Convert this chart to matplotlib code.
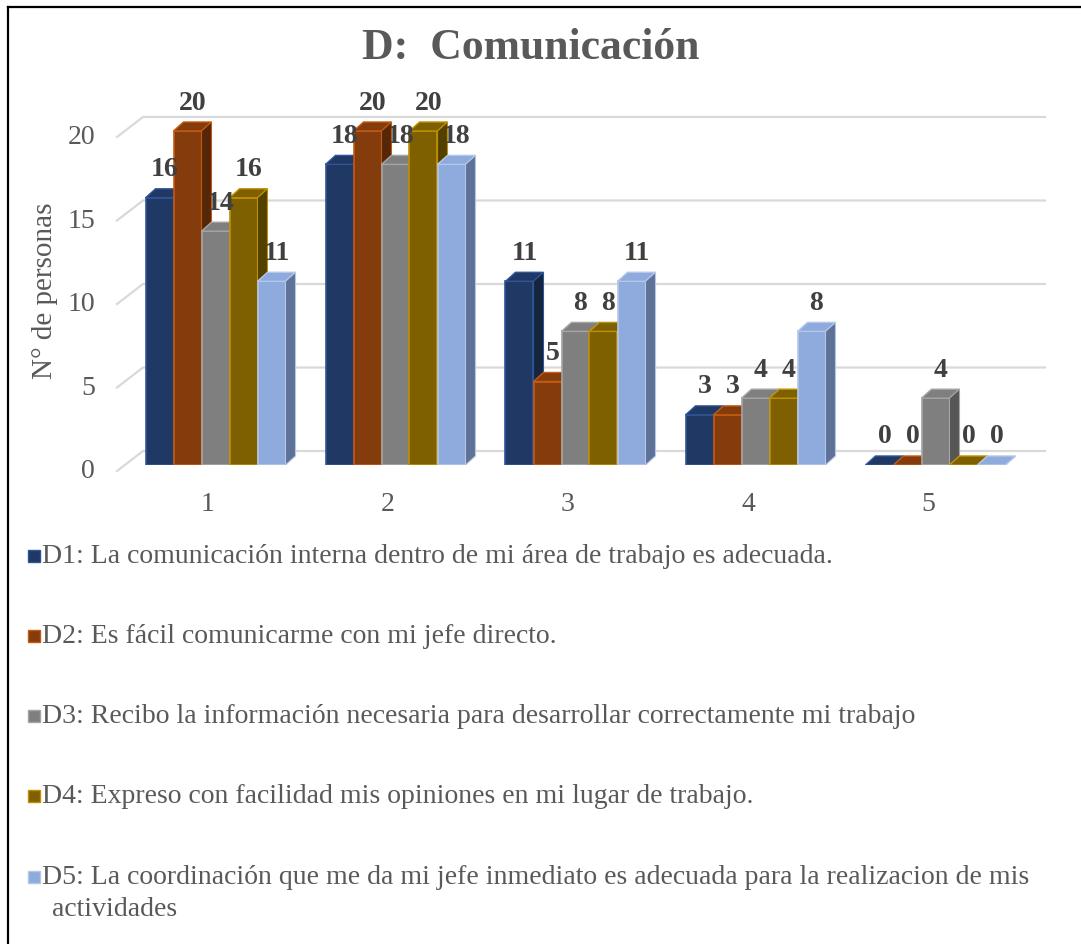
import matplotlib
matplotlib.use("Agg")
import matplotlib.pyplot as plt
from matplotlib.patches import Polygon, Rectangle
from matplotlib.lines import Line2D

plt.rcParams['font.family'] = ['Liberation Serif', 'DejaVu Serif']

# data
groups = [1, 2, 3, 4, 5]
series_names = [
    "D1: La comunicación interna dentro de mi área de trabajo es adecuada.",
    "D2: Es fácil comunicarme con mi jefe directo.",
    "D3: Recibo la información necesaria para desarrollar correctamente mi trabajo",
    "D4: Expreso con facilidad mis opiniones en mi lugar de trabajo.",
    "D5: La coordinación que me da mi jefe inmediato es adecuada para la realizacion de mis\nactividades",
]
d1 = [16, 18, 11, 3, 0]
d2 = [20, 20, 5, 3, 0]
d3 = [14, 18, 8, 4, 4]
d4 = [16, 20, 8, 4, 0]
d5 = [11, 18, 11, 8, 0]
values = [d1, d2, d3, d4, d5]
yticks = [0, 5, 10, 15, 20]

face = ["#203864", "#843C0C", "#7F7F7F", "#7F6000", "#8FAADC"]
edge = ["#2F5597", "#C55A11", "#A5A5A5", "#BF9000", "#B4C7E7"]
side = ["#15243F", "#552708", "#565656", "#524000", "#5E7196"]
grey = "#595959"

W, H = 1081, 945
fig = plt.figure(figsize=(W / 100, H / 100), dpi=100)

# axes placed in pixels of the reference
ax_l, ax_r, ax_b, ax_t = 117, 1045, 466, 82
ax = fig.add_axes([ax_l / W, 1 - ax_b / H, (ax_r - ax_l) / W, (ax_b - ax_t) / H])
px_x, px_y = 180.0, 16.7
x0_lim = 1 + (ax_l - 208) / px_x
x1_lim = 1 + (ax_r - 208) / px_x
ax.set_xlim(x0_lim, x1_lim)
ax.set_ylim(0, (ax_b - ax_t) / px_y)
ax.axis("off")

# pseudo-3d grid (back wall + floor diagonal)
g_dx, g_front, g_back = 26 / px_x, -6 / px_y, 14 / px_y
for v in yticks:
    ax.plot([x0_lim, x0_lim + g_dx, x1_lim], [v + g_front, v + g_back, v + g_back],
            color="#D9D9D9", lw=1.6, clip_on=False, zorder=0)
    ax.text(x0_lim - 22 / px_x, v + g_front, str(v), ha="right", va="center",
            fontsize=20, color=grey)

for g in groups:
    ax.text(g, -39 / px_y, str(g), ha="center", va="center", fontsize=20, color=grey)

# bars with top and side faces
w = 28 / px_x
shift = 7.5 / px_x
ddx, ddy = 10 / px_x, 9 / px_y
for j, vals in enumerate(values):
    for g, h in zip(groups, vals):
        xa = g + shift + (j - 2) * w - w / 2
        xb = xa + w
        ax.add_patch(Rectangle((xa, 0), w, h, fc=face[j], ec=edge[j], lw=1.2))
        ax.add_patch(Polygon([(xa, h), (xb, h), (xb + ddx, h + ddy), (xa + ddx, h + ddy)],
                             closed=True, fc=face[j], ec=edge[j], lw=1.0))
        ax.add_patch(Polygon([(xb, 0), (xb + ddx, ddy), (xb + ddx, h + ddy), (xb, h)],
                             closed=True, fc=side[j], ec=edge[j], lw=0.8))

for j, vals in enumerate(values):
    for g, h in zip(groups, vals):
        xc = g + shift + (j - 2) * w
        ax.text(xc + ddx / 2, h + 29 / px_y, str(h), ha="center", va="center",
                fontsize=20, fontweight="bold", color="#404040", zorder=10, clip_on=False)

# title and axis label
fig.text(531 / W, 1 - 48 / H, "D:  Comunicación", ha="center", va="center",
         fontsize=31.5, fontweight="bold", color=grey)
fig.text(45 / W, 1 - 291 / H, "N° de personas", rotation=90, ha="center", va="center",
         fontsize=21, color=grey)

# legend below the plot
rows = [557, 637, 717, 797, 878]
for j, name in enumerate(series_names):
    y = rows[j]
    fig.add_artist(Rectangle((28 / W, 1 - (y + 6) / H), 12 / W, 12 / H,
                             transform=fig.transFigure, fc=face[j], ec=edge[j], lw=1.0))
    first, *rest = name.split("\n")
    fig.text(42 / W, 1 - y / H, first, ha="left", va="center", fontsize=20, color=grey)
    for k, line in enumerate(rest):
        fig.text(52 / W, 1 - (y + 32 * (k + 1)) / H, line, ha="left", va="center",
                 fontsize=20, color=grey)

# frame lines at top and left
fig.add_artist(Line2D([8 / W, 1], [1 - 8 / H, 1 - 8 / H], transform=fig.transFigure,
                      color="black", lw=1.6))
fig.add_artist(Line2D([8 / W, 8 / W], [1 - 8 / H, 0], transform=fig.transFigure,
                      color="black", lw=1.6))

fig.savefig("out.png", dpi=100)
